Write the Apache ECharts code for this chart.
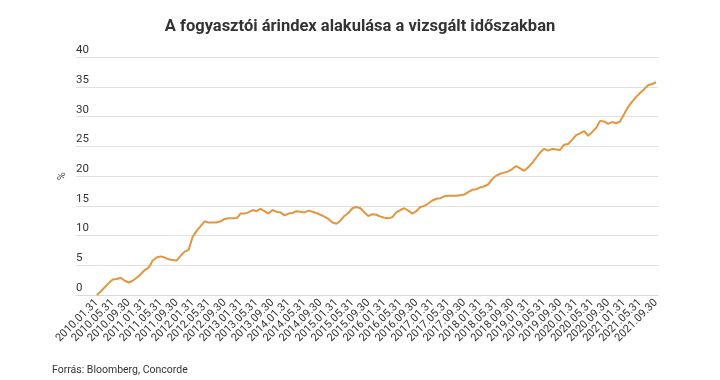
<!DOCTYPE html>
<html>
<head>
<meta charset="utf-8">
<script src="https://cdn.jsdelivr.net/npm/echarts@6/dist/echarts.min.js"></script>
<style>
html,body{margin:0;padding:0;background:#fff;}
#chart{width:720px;height:380px;}
</style>
</head>
<body>
<div id="chart"></div>
<script>
// Monthly values, 2010.01.31 ... 2021.09.30 (141 months), in %
const cpiValues = [
  0.0, 0.6, 1.3, 2.0, 2.6, 2.7, 2.9, 2.4, 2.1, 2.4, 2.9, 3.5,
  4.2, 4.6, 5.8, 6.3, 6.5, 6.3, 6.0, 5.9, 5.8, 6.6, 7.3, 7.6,
  9.8, 10.8, 11.6, 12.4, 12.2, 12.2, 12.2, 12.4, 12.8, 12.9, 12.9, 12.9,
  13.7, 13.7, 13.9, 14.3, 14.1, 14.5, 14.1, 13.7, 14.3, 14.0, 13.9, 13.4,
  13.7, 13.8, 14.1, 14.0, 13.9, 14.2, 14.0, 13.8, 13.5, 13.2, 12.8, 12.2,
  12.0, 12.5, 13.3, 13.8, 14.6, 14.8, 14.6, 13.9, 13.3, 13.6, 13.5, 13.2,
  13.0, 12.9, 13.1, 13.9, 14.3, 14.6, 14.2, 13.7, 14.1, 14.8, 15.0, 15.4,
  15.9, 16.2, 16.3, 16.6, 16.7, 16.7, 16.7, 16.8, 16.9, 17.3, 17.7, 17.8,
  18.1, 18.3, 18.6, 19.5, 20.1, 20.4, 20.6, 20.8, 21.2, 21.7, 21.3, 20.9,
  21.5, 22.2, 23.1, 24.0, 24.6, 24.3, 24.6, 24.5, 24.4, 25.3, 25.4, 26.1,
  26.9, 27.2, 27.6, 26.8, 27.4, 28.1, 29.3, 29.2, 28.8, 29.1, 28.9, 29.2,
  30.4, 31.6, 32.5, 33.3, 34.0, 34.6, 35.3, 35.5, 35.8
];

// Tick labels, one every 4 months starting at the first month
const tickLabels = [
  '2010.01.31','2010.05.31','2010.09.30',
  '2011.01.31','2011.05.31','2011.09.30',
  '2012.01.31','2012.05.31','2012.09.30',
  '2013.01.31','2013.05.31','2013.09.30',
  '2014.01.31','2014.05.31','2014.09.30',
  '2015.01.31','2015.05.31','2015.09.30',
  '2016.01.31','2016.05.31','2016.09.30',
  '2017.01.31','2017.05.31','2017.09.30',
  '2018.01.31','2018.05.31','2018.09.30',
  '2019.01.31','2019.05.31','2019.09.30',
  '2020.01.31','2020.05.31','2020.09.30',
  '2021.01.31','2021.05.31','2021.09.30'
];
const tickStep = 4;

const titleText = 'A fogyasztói árindex alakulása a vizsgált időszakban';
const sourceText = 'Forrás: Bloomberg, Concorde';
const yName = '%';

const seriesData = cpiValues.map((v, i) => [i, v]);
const tickPositions = tickLabels.map((_, k) => k * tickStep);

const chart = echarts.init(document.getElementById('chart'), null, {renderer: 'canvas'});
const FONT = 'Roboto, "Noto Sans", sans-serif';

chart.setOption({
  backgroundColor: '#ffffff',
  animation: false,
  textStyle: {fontFamily: FONT},
  title: [{
    text: titleText,
    left: 'center',
    top: 13,
    textStyle: {fontFamily: FONT, fontSize: 16.5, fontWeight: 'bold', color: '#333333'}
  }, {
    text: sourceText,
    left: 47,
    top: 360,
    textStyle: {fontFamily: FONT, fontSize: 10.5, fontWeight: 'normal', color: '#333333'}
  }],
  grid: {left: 76, right: 62, top: 57.3, bottom: 85, containLabel: false},
  xAxis: {
    type: 'value',
    min: -5.2,
    max: 140.5,
    splitLine: {show: false},
    axisTick: {show: false},
    axisLine: {show: true, lineStyle: {color: '#d9d9d9', width: 1}},
    axisLabel: {
      customValues: tickPositions,
      rotate: 45,
      margin: 6,
      fontFamily: FONT,
      fontSize: 11,
      color: '#333333',
      formatter: v => tickLabels[Math.round(v / tickStep)] || ''
    }
  },
  yAxis: {
    type: 'value',
    min: 0,
    max: 40,
    interval: 5,
    name: yName,
    nameLocation: 'middle',
    nameGap: 8,
    nameRotate: 90,
    nameMoveOverlap: false,
    nameTextStyle: {fontFamily: FONT, fontSize: 11, color: '#555555'},
    axisLine: {show: false},
    axisTick: {show: false},
    splitLine: {show: true, lineStyle: {color: '#e0e0e0', width: 1}},
    axisLabel: {
      inside: true,
      margin: 0,
      align: 'left',
      verticalAlign: 'bottom',
      padding: [0, 0, 1, 0],
      fontFamily: FONT,
      fontSize: 11.5,
      color: '#333333'
    }
  },
  series: [{
    type: 'line',
    data: seriesData,
    showSymbol: false,
    symbol: 'none',
    smooth: false,
    lineStyle: {color: '#e3963e', width: 2},
    itemStyle: {color: '#e3963e'}
  }]
});
</script>
</body>
</html>
